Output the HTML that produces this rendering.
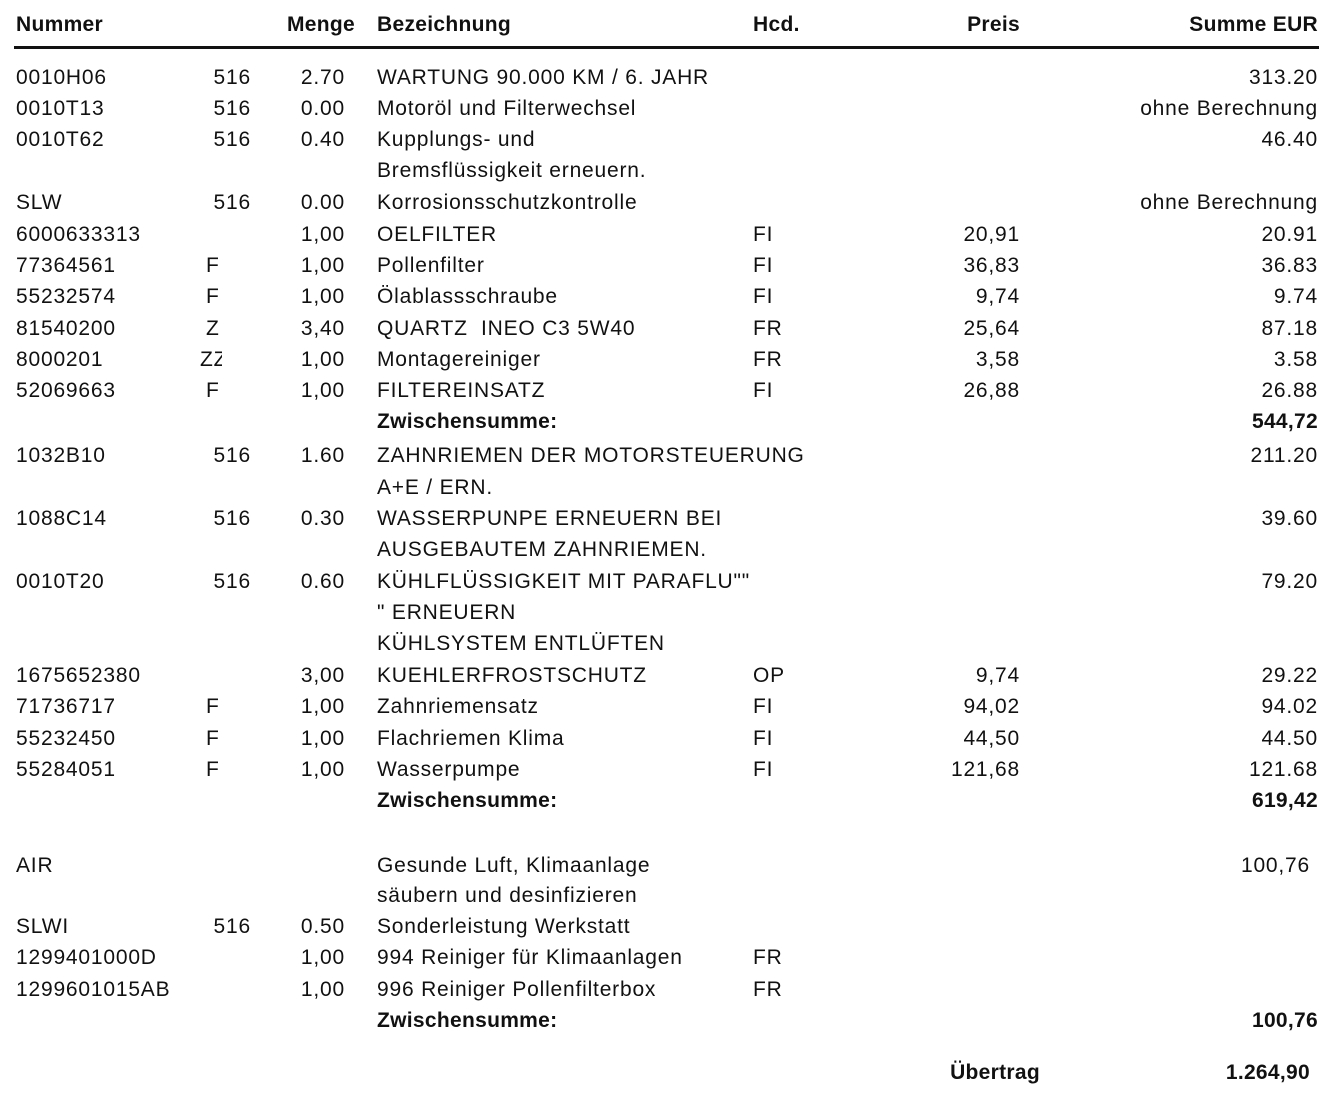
<!DOCTYPE html>
<html><head><meta charset="utf-8"><style>
body{margin:0;width:1344px;height:1096px;background:#fff;position:relative;overflow:hidden;font-family:"Liberation Sans",sans-serif;font-size:21px;letter-spacing:0.8px;color:#111}
.r{position:absolute;height:26px;line-height:26px;white-space:nowrap}
.b{font-weight:bold;letter-spacing:0.3px}
.c1{left:16px}
.c2{left:190px;width:61px;text-align:right}
.c3{left:270px;width:75px;text-align:right}
.c4{left:377px}
.c5{left:753px}
.c6{left:880px;width:140px;text-align:right}
.c7{left:1060px;width:258px;text-align:right}
.f{left:206px}
</style></head><body>
<div class="r b c1" style="top:12px">Nummer</div>
<div class="r b" style="top:12px;left:287px">Menge</div>
<div class="r b c4" style="top:12px">Bezeichnung</div>
<div class="r b c5" style="top:12px">Hcd.</div>
<div class="r b c6" style="top:12px">Preis</div>
<div class="r b c7" style="top:12px">Summe EUR</div>
<div style="position:absolute;left:14px;top:46px;width:1305px;height:3px;background:#111"></div>

<div class="r c1" style="top:65px">0010H06</div><div class="r c2" style="top:65px">516</div><div class="r c3" style="top:65px">2.70</div><div class="r c4" style="top:65px">WARTUNG 90.000 KM / 6. JAHR</div><div class="r c7" style="top:65px">313.20</div>
<div class="r c1" style="top:96px">0010T13</div><div class="r c2" style="top:96px">516</div><div class="r c3" style="top:96px">0.00</div><div class="r c4" style="top:96px">Motoröl und Filterwechsel</div><div class="r c7" style="top:96px">ohne Berechnung</div>
<div class="r c1" style="top:127px">0010T62</div><div class="r c2" style="top:127px">516</div><div class="r c3" style="top:127px">0.40</div><div class="r c4" style="top:127px">Kupplungs- und</div><div class="r c7" style="top:127px">46.40</div>
<div class="r c4" style="top:158px">Bremsflüssigkeit erneuern.</div>
<div class="r c1" style="top:190px">SLW</div><div class="r c2" style="top:190px">516</div><div class="r c3" style="top:190px">0.00</div><div class="r c4" style="top:190px">Korrosionsschutzkontrolle</div><div class="r c7" style="top:190px">ohne Berechnung</div>
<div class="r c1" style="top:222px">6000633313</div><div class="r c3" style="top:222px">1,00</div><div class="r c4" style="top:222px">OELFILTER</div><div class="r c5" style="top:222px">FI</div><div class="r c6" style="top:222px">20,91</div><div class="r c7" style="top:222px">20.91</div>
<div class="r c1" style="top:253px">77364561</div><div class="r f" style="top:253px">F</div><div class="r c3" style="top:253px">1,00</div><div class="r c4" style="top:253px">Pollenfilter</div><div class="r c5" style="top:253px">FI</div><div class="r c6" style="top:253px">36,83</div><div class="r c7" style="top:253px">36.83</div>
<div class="r c1" style="top:284px">55232574</div><div class="r f" style="top:284px">F</div><div class="r c3" style="top:284px">1,00</div><div class="r c4" style="top:284px">Ölablassschraube</div><div class="r c5" style="top:284px">FI</div><div class="r c6" style="top:284px">9,74</div><div class="r c7" style="top:284px">9.74</div>
<div class="r c1" style="top:316px">81540200</div><div class="r f" style="top:316px">Z</div><div class="r c3" style="top:316px">3,40</div><div class="r c4" style="top:316px">QUARTZ&nbsp; INEO C3 5W40</div><div class="r c5" style="top:316px">FR</div><div class="r c6" style="top:316px">25,64</div><div class="r c7" style="top:316px">87.18</div>
<div class="r c1" style="top:347px">8000201</div><div class="r" style="top:347px;left:200px;width:22px;overflow:hidden">ZZ</div><div class="r c3" style="top:347px">1,00</div><div class="r c4" style="top:347px">Montagereiniger</div><div class="r c5" style="top:347px">FR</div><div class="r c6" style="top:347px">3,58</div><div class="r c7" style="top:347px">3.58</div>
<div class="r c1" style="top:378px">52069663</div><div class="r f" style="top:378px">F</div><div class="r c3" style="top:378px">1,00</div><div class="r c4" style="top:378px">FILTEREINSATZ</div><div class="r c5" style="top:378px">FI</div><div class="r c6" style="top:378px">26,88</div><div class="r c7" style="top:378px">26.88</div>
<div class="r b c4" style="top:409px">Zwischensumme:</div><div class="r b c7" style="top:409px">544,72</div>

<div class="r c1" style="top:443px">1032B10</div><div class="r c2" style="top:443px">516</div><div class="r c3" style="top:443px">1.60</div><div class="r c4" style="top:443px">ZAHNRIEMEN DER MOTORSTEUERUNG</div><div class="r c7" style="top:443px">211.20</div>
<div class="r c4" style="top:475px">A+E / ERN.</div>
<div class="r c1" style="top:506px">1088C14</div><div class="r c2" style="top:506px">516</div><div class="r c3" style="top:506px">0.30</div><div class="r c4" style="top:506px">WASSERPUNPE ERNEUERN BEI</div><div class="r c7" style="top:506px">39.60</div>
<div class="r c4" style="top:537px">AUSGEBAUTEM ZAHNRIEMEN.</div>
<div class="r c1" style="top:569px">0010T20</div><div class="r c2" style="top:569px">516</div><div class="r c3" style="top:569px">0.60</div><div class="r c4" style="top:569px">KÜHLFLÜSSIGKEIT MIT PARAFLU""</div><div class="r c7" style="top:569px">79.20</div>
<div class="r c4" style="top:600px">" ERNEUERN</div>
<div class="r c4" style="top:631px">KÜHLSYSTEM ENTLÜFTEN</div>
<div class="r c1" style="top:663px">1675652380</div><div class="r c3" style="top:663px">3,00</div><div class="r c4" style="top:663px">KUEHLERFROSTSCHUTZ</div><div class="r c5" style="top:663px">OP</div><div class="r c6" style="top:663px">9,74</div><div class="r c7" style="top:663px">29.22</div>
<div class="r c1" style="top:694px">71736717</div><div class="r f" style="top:694px">F</div><div class="r c3" style="top:694px">1,00</div><div class="r c4" style="top:694px">Zahnriemensatz</div><div class="r c5" style="top:694px">FI</div><div class="r c6" style="top:694px">94,02</div><div class="r c7" style="top:694px">94.02</div>
<div class="r c1" style="top:726px">55232450</div><div class="r f" style="top:726px">F</div><div class="r c3" style="top:726px">1,00</div><div class="r c4" style="top:726px">Flachriemen Klima</div><div class="r c5" style="top:726px">FI</div><div class="r c6" style="top:726px">44,50</div><div class="r c7" style="top:726px">44.50</div>
<div class="r c1" style="top:757px">55284051</div><div class="r f" style="top:757px">F</div><div class="r c3" style="top:757px">1,00</div><div class="r c4" style="top:757px">Wasserpumpe</div><div class="r c5" style="top:757px">FI</div><div class="r c6" style="top:757px">121,68</div><div class="r c7" style="top:757px">121.68</div>
<div class="r b c4" style="top:788px">Zwischensumme:</div><div class="r b c7" style="top:788px">619,42</div>

<div class="r c1" style="top:853px">AIR</div><div class="r c4" style="top:853px">Gesunde Luft, Klimaanlage</div><div class="r c7" style="top:853px;left:1052px">100,76</div>
<div class="r c4" style="top:883px">säubern und desinfizieren</div>
<div class="r c1" style="top:914px">SLWI</div><div class="r c2" style="top:914px">516</div><div class="r c3" style="top:914px">0.50</div><div class="r c4" style="top:914px">Sonderleistung Werkstatt</div>
<div class="r c1" style="top:945px">1299401000D</div><div class="r c3" style="top:945px">1,00</div><div class="r c4" style="top:945px">994 Reiniger für Klimaanlagen</div><div class="r c5" style="top:945px">FR</div>
<div class="r c1" style="top:977px">1299601015AB</div><div class="r c3" style="top:977px">1,00</div><div class="r c4" style="top:977px">996 Reiniger Pollenfilterbox</div><div class="r c5" style="top:977px">FR</div>
<div class="r b c4" style="top:1008px">Zwischensumme:</div><div class="r b c7" style="top:1008px">100,76</div>

<div class="r b" style="top:1060px;left:880px;width:160px;text-align:right">Übertrag</div>
<div class="r b" style="top:1060px;left:1080px;width:230px;text-align:right">1.264,90</div>
</body></html>
